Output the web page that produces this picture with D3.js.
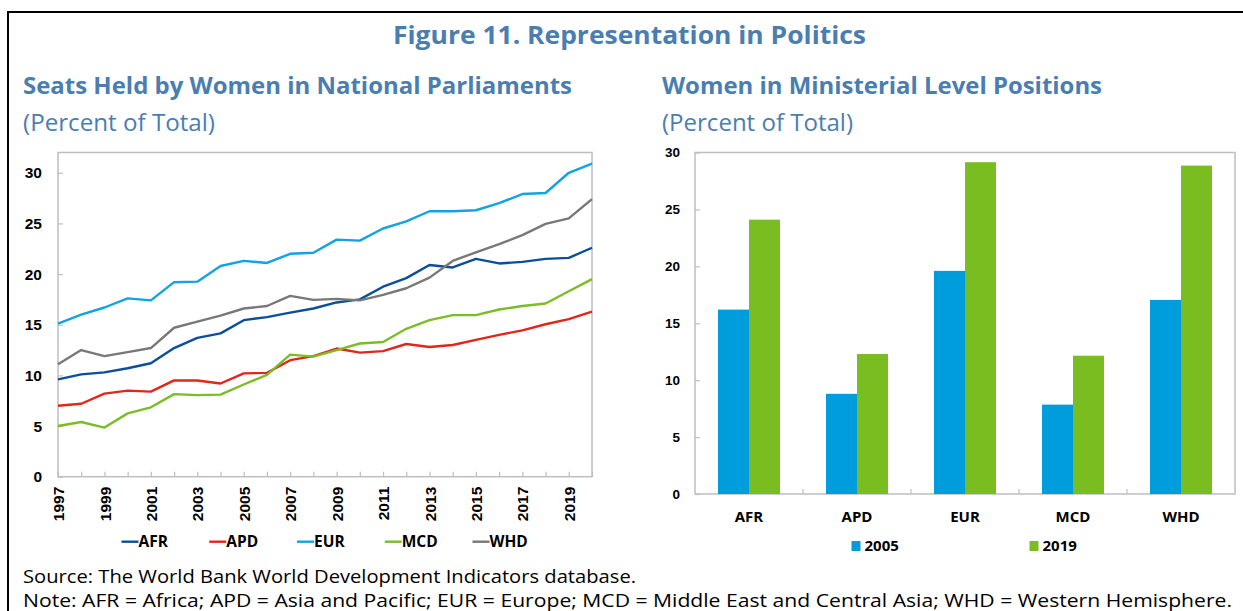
<!DOCTYPE html>
<html>
<head>
<meta charset="utf-8">
<script src="https://cdn.jsdelivr.net/npm/d3@7"></script>
<style>
  body { margin: 0; background: #fff; }
  svg { display: block; font-family: "Open Sans", sans-serif; }
  .heading { fill: #4a7eb1; }
  .tick text { font-weight: 700; fill: #000; }
  .note { fill: #000; }
</style>
</head>
<body>
<div id="chart"></div>
<script>
//years for the line chart
var years = [1997, 1998, 1999, 2000, 2001, 2002, 2003, 2004, 2005, 2006, 2007, 2008,
             2009, 2010, 2011, 2012, 2013, 2014, 2015, 2016, 2017, 2018, 2019, 2020];
var yearLabels = [1997, 1999, 2001, 2003, 2005, 2007, 2009, 2011, 2013, 2015, 2017, 2019];

//seats held by women in national parliaments (% of total)
var afr = [9.6, 10.1, 10.3, 10.7, 11.2, 12.7, 13.7, 14.15, 15.45, 15.75, 16.2, 16.6,
           17.2, 17.5, 18.75, 19.6, 20.9, 20.65, 21.5, 21.05, 21.2, 21.5, 21.6, 22.6];
var apd = [7.0, 7.2, 8.2, 8.5, 8.4, 9.5, 9.5, 9.2, 10.2, 10.25, 11.5, 11.9,
           12.65, 12.25, 12.4, 13.1, 12.8, 13.0, 13.5, 14.0, 14.45, 15.05, 15.55, 16.3];
var eur = [15.1, 16.0, 16.7, 17.6, 17.4, 19.2, 19.25, 20.8, 21.3, 21.1, 22.0, 22.1,
           23.4, 23.3, 24.5, 25.2, 26.2, 26.2, 26.3, 27.0, 27.9, 28.0, 30.0, 30.9];
var mcd = [5.0, 5.4, 4.85, 6.25, 6.85, 8.15, 8.05, 8.1, 9.1, 10.05, 12.05, 11.85,
           12.5, 13.15, 13.3, 14.6, 15.45, 15.95, 15.95, 16.5, 16.85, 17.1, 18.3, 19.5];
var whd = [11.1, 12.5, 11.9, 12.3, 12.7, 14.7, 15.3, 15.9, 16.6, 16.85, 17.85, 17.45,
           17.55, 17.4, 17.95, 18.6, 19.65, 21.3, 22.15, 22.95, 23.85, 24.95, 25.5, 27.4];
var regions = ["AFR", "APD", "EUR", "MCD", "WHD"];
var leftTicks = [0, 5, 10, 15, 20, 25, 30];

//women in ministerial level positions (% of total)
var barYears = ["2005", "2019"];
var min2005 = [16.2, 8.8, 19.6, 7.85, 17.05];
var min2019 = [24.1, 12.3, 29.15, 12.15, 28.85];
var rightTicks = [0, 5, 10, 15, 20, 25, 30];

function init(){

  var W = 1243, H = 611;
  var lineColors = ["#0b4f9b", "#e2261c", "#12a3e0", "#7bbd26", "#787878"];
  var barColors = ["#009ddc", "#79bd21"];
  var axisGrey = "#bfbfbf";

  var svg = d3.select("#chart")
              .append("svg")
              .attr("width", W)
              .attr("height", H);

  //outer frame
  svg.append("path")
     .attr("d", "M8," + H + " V12 H" + (W + 2))
     .attr("fill", "none")
     .attr("stroke", "#000")
     .attr("stroke-width", 2);

  //headings
  function label(txt, x, y, size, weight, len, anchor, cls){
    return svg.append("text")
      .attr("class", cls)
      .attr("x", x)
      .attr("y", y)
      .attr("text-anchor", anchor)
      .attr("textLength", len)
      .attr("lengthAdjust", "spacingAndGlyphs")
      .style("font-size", size + "px")
      .style("font-weight", weight)
      .text(txt);
  }
  label("Figure 11. Representation in Politics", 629.5, 43.5, 25, 700, 473, "middle", "heading");
  label("Seats Held by Women in National Parliaments", 23, 94.3, 23, 700, 549, "start", "heading");
  label("(Percent of Total)", 23, 131, 23, 400, 192, "start", "heading");
  label("Women in Ministerial Level Positions", 662, 94.3, 23, 700, 440, "start", "heading");
  label("(Percent of Total)", 662, 131, 23, 400, 191, "start", "heading");
  label("Source: The World Bank World Development Indicators database.", 23, 582.5, 19, 400, 613, "start", "note");
  label("Note: AFR = Africa; APD = Asia and Pacific; EUR = Europe; MCD = Middle East and Central Asia; WHD = Western Hemisphere.", 23, 606.5, 18.5, 400, 1209, "start", "note");

  lineChart();
  barChart();

  function lineChart(){

    var x0 = 58, x1 = 592, yTop = 152.5, yBot = 476.7;

    //define x scale
    var xScale = d3.scaleLinear()
                   .domain([years[0], years[years.length - 1]])
                   .range([x0, x1]);

    //define y scale
    var yScale = d3.scaleLinear()
                   .domain([0, 32])
                   .range([yBot, yTop]);

    //plot frame
    svg.append("rect")
       .attr("x", x0)
       .attr("y", yTop)
       .attr("width", x1 - x0)
       .attr("height", yBot - yTop)
       .attr("fill", "none")
       .attr("stroke", axisGrey)
       .attr("stroke-width", 1.5);

    //y-axis
    var yAxis = d3.axisLeft(yScale)
                  .tickValues(leftTicks)
                  .tickSize(-5)
                  .tickPadding(16);

    var gy = svg.append("g")
       .attr("transform", "translate(" + x0 + ",0)")
       .call(yAxis);
    gy.select(".domain").remove();
    gy.selectAll("line").attr("stroke", axisGrey).attr("stroke-width", 1.2);
    gy.selectAll("text").style("font-size", "15.5px");

    //x-axis, one tick each year, label every other year
    var xAxis = d3.axisBottom(xScale)
                  .tickValues(years)
                  .tickSize(-5)
                  .tickFormat(function(d){ return yearLabels.indexOf(d) >= 0 ? d : ""; });

    var gx = svg.append("g")
       .attr("transform", "translate(0," + yBot + ")")
       .call(xAxis);
    gx.select(".domain").remove();
    gx.selectAll("line").attr("stroke", axisGrey).attr("stroke-width", 1.2);
    gx.selectAll("text")
      .style("font-size", "15.5px")
      .attr("text-anchor", "end")
      .attr("transform", "rotate(-90)")
      .attr("x", -10)
      .attr("y", 0)
      .attr("dy", "0.36em");

    //line generator
    var line = d3.line()
        .x(function(d, i) { return xScale(years[i]); })
        .y(function(d) { return yScale(d); });

    var series = [afr, apd, eur, mcd, whd];

    svg.selectAll(".line")
       .data(series)
       .enter()
       .append("path")
       .attr("class", "line")
       .attr("fill", "none")
       .attr("stroke", function(d, i){ return lineColors[i]; })
       .attr("stroke-width", 2.4)
       .attr("stroke-linejoin", "round")
       .attr("d", line);

    //legend
    var legX = d3.scalePoint().domain(regions).range([121.5, 472.5]);
    var leg = svg.selectAll(".legL")
       .data(regions)
       .enter()
       .append("g")
       .attr("class", "legL")
       .attr("transform", function(d){ return "translate(" + legX(d) + ",541.7)"; });

    leg.append("line")
       .attr("x1", 0).attr("x2", 17)
       .attr("stroke", function(d, i){ return lineColors[i]; })
       .attr("stroke-width", 2.4);

    leg.append("text")
       .attr("x", 17)
       .attr("y", 5.5)
       .style("font-size", "15.5px")
       .style("font-weight", 700)
       .text(function(d){ return d; });
  }

  function barChart(){

    var x0 = 695, x1 = 1235, yTop = 152.5, yBot = 494;

    var xCat = d3.scaleBand()
                 .domain(regions)
                 .range([x0, x1]);

    var bw = xCat.bandwidth();
    var xYear = d3.scaleBand()
                  .domain(barYears)
                  .range([bw * 0.213, bw * 0.787]);

    var yScale = d3.scaleLinear()
                   .domain([0, 30])
                   .range([yBot, yTop]);

    //plot frame
    svg.append("rect")
       .attr("x", x0)
       .attr("y", yTop)
       .attr("width", x1 - x0)
       .attr("height", yBot - yTop)
       .attr("fill", "none")
       .attr("stroke", axisGrey)
       .attr("stroke-width", 1.5);

    //y-axis
    var yAxis = d3.axisLeft(yScale)
                  .tickValues(rightTicks)
                  .tickSize(-5)
                  .tickPadding(15);

    var gy = svg.append("g")
       .attr("transform", "translate(" + x0 + ",0)")
       .call(yAxis);
    gy.select(".domain").remove();
    gy.selectAll("line").attr("stroke", axisGrey).attr("stroke-width", 1.2);
    gy.selectAll("text").style("font-size", "13.5px");

    //category separators on the x axis
    svg.selectAll(".sep")
       .data(regions.slice(1))
       .enter()
       .append("line")
       .attr("class", "sep")
       .attr("x1", function(d){ return xCat(d); })
       .attr("x2", function(d){ return xCat(d); })
       .attr("y1", yBot)
       .attr("y2", yBot - 5)
       .attr("stroke", axisGrey)
       .attr("stroke-width", 1.2);

    var rows = regions.map(function(r, i){ return [min2005[i], min2019[i]]; });

    var groups = svg.selectAll(".cat")
       .data(rows)
       .enter()
       .append("g")
       .attr("class", "cat")
       .attr("transform", function(d, i){ return "translate(" + xCat(regions[i]) + ",0)"; });

    groups.selectAll("rect")
       .data(function(d){ return d; })
       .enter()
       .append("rect")
       .attr("x", function(d, j){ return xYear(barYears[j]); })
       .attr("y", function(d){ return yScale(d); })
       .attr("width", xYear.bandwidth())
       .attr("height", function(d){ return yBot - yScale(d); })
       .attr("fill", function(d, j){ return barColors[j]; });

    //category labels
    svg.selectAll(".catLabel")
       .data(regions)
       .enter()
       .append("text")
       .attr("class", "catLabel")
       .attr("x", function(d){ return xCat(d) + bw / 2; })
       .attr("y", 521.7)
       .attr("text-anchor", "middle")
       .style("font-size", "15px")
       .style("font-weight", 700)
       .text(function(d){ return d; });

    //legend
    var legX = d3.scalePoint().domain(barYears).range([851.5, 1029.5]);
    var leg = svg.selectAll(".legR")
       .data(barYears)
       .enter()
       .append("g")
       .attr("class", "legR")
       .attr("transform", function(d){ return "translate(" + legX(d) + ",541)"; });

    leg.append("rect")
       .attr("width", 9)
       .attr("height", 10)
       .attr("fill", function(d, j){ return barColors[j]; });

    leg.append("text")
       .attr("x", 13)
       .attr("y", 10)
       .style("font-size", "15px")
       .style("font-weight", 700)
       .text(function(d){ return d; });
  }

}

window.onload = init;
</script>
</body>
</html>
